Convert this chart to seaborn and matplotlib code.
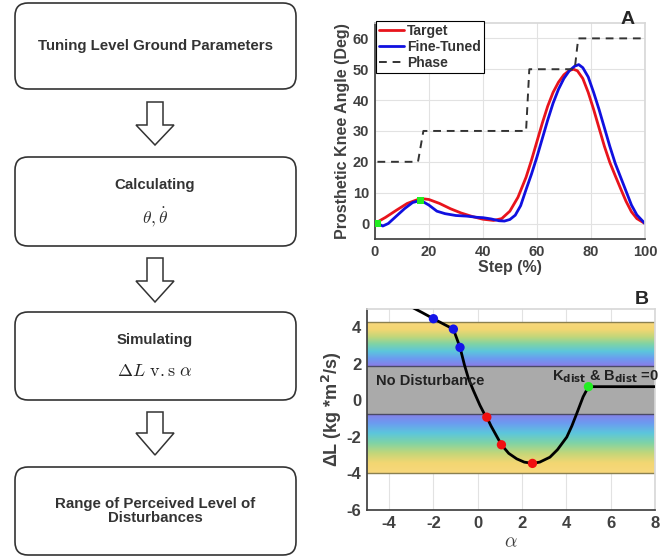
import numpy as np
import matplotlib
matplotlib.use("Agg")
import matplotlib.pyplot as plt
from matplotlib.patches import FancyBboxPatch, Polygon
from matplotlib.colors import LinearSegmentedColormap
import seaborn as sns

# ---- panel A data ----
step_target = [0, 4, 8, 12, 16, 18, 20, 24, 28, 32, 36, 40, 44, 47, 50, 53, 56, 58, 60, 62, 64, 66,
               68, 70, 72, 73.5, 75, 77, 79, 81, 83, 85, 87, 89, 91, 93, 95, 97, 100]
angle_target = [0, 2, 4.3, 6.5, 7.8, 8.0, 7.8, 6.5, 4.8, 3.4, 2.3, 1.4, 1.0, 1.6, 4, 8.5, 15, 20.5, 26.5,
                32.5, 38, 42.5, 45.8, 48.2, 49.6, 50, 49.5, 47, 42.5, 37, 31, 25, 19.8, 15.5, 11.3, 7.2,
                3.8, 1.6, 0]
step_tuned = [1, 3, 5, 8, 11, 14, 17, 20, 23, 26, 30, 34, 38, 40, 43, 46, 48, 50, 52, 54, 56, 58, 60,
              62, 64, 66, 68, 70, 72, 74, 75.5, 77, 79, 81, 83, 85, 87, 89, 91, 93, 95, 97, 100]
angle_tuned = [0, -0.8, 0, 2.4, 4.8, 6.8, 7.5, 6, 4, 3.2, 2.6, 2.4, 2.0, 1.9, 1.5, 0.9, 0.8, 1.3, 2.7,
               5.8, 11, 16, 21.5, 27.5, 33.5, 39, 43.5, 47, 49.5, 51, 51.5, 50.5, 47.5, 42.5, 37, 31,
               25, 19.5, 15, 10.5, 6, 2.8, 0]
step_phase = [1, 16, 18, 56, 57.2, 74, 75.3, 100]
angle_phase = [20, 20, 30, 30, 50, 50, 60, 60]
marker_step = [1, 17]
marker_angle = [0, 7.5]

# ---- panel B data ----
alpha_curve = [-3.05, -2.5, -2.0, -1.5, -1.1, -0.95, -0.8, -0.6, -0.42, -0.2, 0.1, 0.29, 0.41, 0.6,
               0.85, 1.07, 1.4, 1.76, 2.1, 2.47, 2.8, 3.26, 3.6, 4.02, 4.25, 4.47, 4.76, 5.0, 8.0]
dL_curve = [5.15, 4.8, 4.47, 4.15, 3.9, 3.4, 2.9, 1.94, 1.2, 0.55, -0.27, -0.72, -0.92, -1.4, -1.95,
            -2.43, -2.9, -3.2, -3.38, -3.45, -3.38, -3.11, -2.7, -2.01, -1.4, -0.72, 0.2, 0.75, 0.75]
alpha_blue = [-2.0, -1.1, -0.8]
dL_blue = [4.47, 3.9, 2.9]
alpha_red = [0.41, 1.07, 2.47]
dL_red = [-0.92, -2.43, -3.45]
alpha_green = [5.0]
dL_green = [0.75]
band_upper = [1.9, 4.3]
band_none = [-0.72, 1.9]
band_lower = [-3.95, -0.72]

steps_text = ["Tuning Level Ground Parameters", "Calculating", "Simulating",
              "Range of Perceived Level of\nDisturbances"]

sns.set_theme(style="white")
plt.rcParams['font.family'] = ['Liberation Sans', 'DejaVu Sans']
plt.rcParams['axes.unicode_minus'] = False

fig = plt.figure(figsize=(6.68, 5.57), dpi=100)

# ---- flowchart on an overlay in pixel units ----
ax0 = fig.add_axes([0, 0, 1, 1])
ax0.set_xlim(0, 668)
ax0.set_ylim(557, 0)
ax0.axis("off")

boxes = [(3, 89), (157, 246), (312, 400), (467, 555)]
for y0, y1 in boxes:
    ax0.add_patch(FancyBboxPatch((15, y0), 281, y1 - y0, boxstyle="round,pad=0,rounding_size=13",
                                 fc="white", ec="#333333", lw=1.2))

def hollow_arrow(cx, top, head, tip):
    pts = [(cx - 8, top), (cx + 8, top), (cx + 8, head), (cx + 19, head), (cx, tip),
           (cx - 19, head), (cx - 8, head)]
    ax0.add_patch(Polygon(pts, closed=True, fc="white", ec="#333333", lw=1.1))

hollow_arrow(155, 102, 125, 145)
hollow_arrow(155, 258, 281, 302)
hollow_arrow(155, 412, 433, 455)

fs = 10.8
ax0.text(155, 46, steps_text[0], ha="center", va="center", fontsize=fs, fontweight="bold", color="#333333")
ax0.text(155, 185, steps_text[1], ha="center", va="center", fontsize=fs, fontweight="bold", color="#333333")
ax0.text(155, 217, r"$\theta, \dot{\theta}$", ha="center", va="center", fontsize=12.5,
         math_fontfamily="cm", color="#333333")
ax0.text(155, 340, steps_text[2], ha="center", va="center", fontsize=fs, fontweight="bold", color="#333333")
ax0.text(155, 372, r"$\Delta L\ \mathrm{v.s}\ \alpha$", ha="center", va="center", fontsize=13,
         math_fontfamily="cm", color="#222222")
ax0.text(155, 511, steps_text[3], ha="center", va="center", fontsize=fs, fontweight="bold",
         color="#333333", linespacing=0.95)

tick_kw = dict(direction="in", length=3, colors="#404040", labelsize=10.5, pad=4)

# ---- panel A ----
axA = fig.add_axes([0.561, 0.571, 0.4045, 0.3878])
sns.lineplot(x=step_target, y=angle_target, color="#e8141c", lw=2, ax=axA, label="Target", sort=False)
sns.lineplot(x=step_tuned, y=angle_tuned, color="#1010e0", lw=2, ax=axA, label="Fine-Tuned", sort=False)
sns.lineplot(x=step_phase, y=angle_phase, color="#333333", lw=1.4, ax=axA, label="Phase", sort=False)
axA.lines[-1].set_linestyle((0, (4, 3)))
sns.scatterplot(x=marker_step, y=marker_angle, color="#22ee22", marker="s", s=30, ax=axA,
                edgecolor="none", zorder=5)
axA.set_xlim(0, 100)
axA.set_ylim(-5, 65)
axA.set_xticks([0, 20, 40, 60, 80, 100])
axA.set_yticks([0, 10, 20, 30, 40, 50, 60])
axA.grid(True, color="#e2e2e2", lw=0.8)
axA.tick_params(**tick_kw)
for lab in axA.get_xticklabels() + axA.get_yticklabels():
    lab.set_fontweight("bold")
axA.set_xlabel("Step (%)", fontsize=11.5, fontweight="bold", color="#404040", labelpad=1)
axA.set_ylabel("Prosthetic Knee Angle (Deg)", fontsize=11.5, fontweight="bold", color="#404040", labelpad=2)
for s in ["top", "right"]:
    axA.spines[s].set_color("#d8d8d8")
for s in ["left", "bottom"]:
    axA.spines[s].set_color("#404040")
leg = axA.legend(loc="upper left", bbox_to_anchor=(0.005, 1.01), borderaxespad=0, frameon=True,
                 fancybox=False, edgecolor="black", framealpha=1, prop={"weight": "bold", "size": 10},
                 labelspacing=0.15, borderpad=0.2, handletextpad=0.25, handlelength=1.8)
leg.get_frame().set_linewidth(0.8)
for t in leg.get_texts():
    t.set_color("#333333")
fig.text(628 / 668, 1 - 19 / 557, "A", fontsize=14, fontweight="bold", ha="center", va="center")

# ---- panel B ----
axB = fig.add_axes([0.5494, 0.0844, 0.431, 0.3608])
cmap = LinearSegmentedColormap.from_list("parula_soft", ["#8a7de8", "#6c9bf0", "#5cc6dc", "#7fd3a6",
                                                         "#c2d77a", "#f3d672", "#f8d87c"])
grad = np.linspace(0, 1, 256).reshape(-1, 1)
axB.imshow(grad, cmap=cmap, aspect="auto", origin="lower", extent=[-5, 8, band_upper[0], band_upper[1]],
           zorder=1)
axB.imshow(grad, cmap=cmap, aspect="auto", origin="upper", extent=[-5, 8, band_lower[0], band_lower[1]],
           zorder=1)
axB.axhspan(band_none[0], band_none[1], color="#aaaaaa", zorder=1, lw=0)
for yv in [band_upper[1], band_lower[0]]:
    axB.axhline(yv, color="#8a8050", lw=1, zorder=2)
for yv in band_none:
    axB.axhline(yv, color="#4a4a66", lw=1, zorder=2)
axB.set_xlim(-5, 8)
axB.set_ylim(-6, 5)
sns.lineplot(x=alpha_curve, y=dL_curve, color="black", lw=2, ax=axB, sort=False, zorder=3)
sns.scatterplot(x=alpha_blue, y=dL_blue, color="#1515e8", s=45, edgecolor="none", ax=axB, zorder=4)
sns.scatterplot(x=alpha_red, y=dL_red, color="#f01010", s=45, edgecolor="none", ax=axB, zorder=4)
sns.scatterplot(x=alpha_green, y=dL_green, color="#22ee22", s=45, edgecolor="none", ax=axB, zorder=4)
axB.text(-4.6, 1.05, "No Disturbance", fontsize=10.5, fontweight="bold", color="#222222", va="center", zorder=5)
axB.text(3.35, 1.3, r"K$_{\mathbf{dist}}$ & B$_{\mathbf{dist}}$ =0", fontsize=10.5, fontweight="bold",
         color="#222222", va="center", zorder=5, math_fontfamily="dejavusans")
axB.set_xticks([-4, -2, 0, 2, 4, 6, 8])
axB.set_yticks([-6, -4, -2, 0, 2, 4])
axB.grid(True, color="#e2e2e2", lw=0.8, zorder=0)
axB.set_axisbelow(True)
axB.tick_params(**dict(tick_kw, labelsize=12))
for lab in axB.get_xticklabels() + axB.get_yticklabels():
    lab.set_fontweight("bold")
axB.set_xlabel(r"$\alpha$", fontsize=14, color="#404040", math_fontfamily="cm", labelpad=3)
axB.set_ylabel(r"ΔL (kg *m$^{\mathbf{2}}$/s)", fontsize=13, fontweight="bold", color="#404040",
               math_fontfamily="dejavusans", labelpad=2)
for s in ["top", "right"]:
    axB.spines[s].set_color("#d8d8d8")
for s in ["left", "bottom"]:
    axB.spines[s].set_color("#404040")
fig.text(642 / 668, 1 - 300 / 557, "B", fontsize=14, fontweight="bold", ha="center", va="center")

fig.savefig("out.png", dpi=100)
